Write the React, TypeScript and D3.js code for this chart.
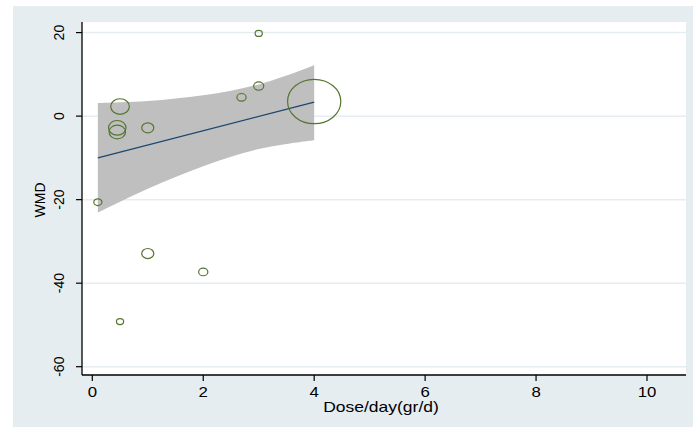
import React from "react";
import * as d3 from "d3";

const doseX = [0.1, 0.5, 0.45, 0.45, 1.0, 2.69, 3.0, 3.0, 4.0, 1.0, 2.0, 0.5];
const wmdY = [-20.6, 2.3, -2.8, -3.8, -2.8, 4.5, 7.2, 19.8, 3.5, -32.9, -37.3, -49.2];
const weightR = [3.7, 8.5, 8, 7.5, 5.5, 4.2, 4.6, 3.3, 24.3, 5.5, 4.2, 3.3];

const fitX = [0.1, 4.0];
const fitY = [-10.0, 3.35];

const bandX = [0.1, 0.5, 1.0, 1.5, 2.0, 2.5, 3.0, 3.5, 4.0];
const bandUpper = [3.1, 3.3, 3.6, 4.2, 5.0, 6.1, 7.6, 9.7, 12.2];
const bandLower = [-23.1, -20.5, -17.4, -14.6, -12.0, -9.7, -7.9, -6.7, -5.8];

const xTicks = [0, 2, 4, 6, 8, 10];
const yTicks = [20, 0, -20, -40, -60];

export default function App() {
  const W = 693, H = 427;
  const x = d3.scaleLinear().domain([0, 10]).range([92.3, 647]);
  const y = d3.scaleLinear().domain([-60, 20]).range([366.7, 32.6]);
  const plotL = 82, plotR = 686, plotT = 22, plotB = 375;
  const font = "Arial, 'Liberation Sans', sans-serif";
  const stretch = 1.2;

  const area = d3
    .area<number>()
    .x((_, i) => x(bandX[i]))
    .y0((_, i) => y(bandLower[i]))
    .y1((_, i) => y(bandUpper[i]))
    .curve(d3.curveCatmullRom);
  const line = d3
    .line<number>()
    .x((_, i) => x(fitX[i]))
    .y((d) => y(d));

  return (
    <svg
      width={W}
      height={H}
      style={{ position: "absolute", left: 0, top: 0, display: "block" }}
    >
      <rect x={0} y={0} width={W} height={H} fill="#ffffff" />
      <rect x={13} y={6} width={W - 13} height={H - 6} fill="#e6edf1" />
      <rect x={plotL} y={plotT} width={plotR - plotL} height={plotB - plotT} fill="#ffffff" />
      {yTicks.map((t) => (
        <line
          key={"g" + t}
          x1={plotL}
          x2={plotR}
          y1={y(t)}
          y2={y(t)}
          stroke="#e6edf1"
          strokeWidth={1.5}
        />
      ))}
      <path d={area(bandX) || ""} fill="#bfbfbf" />
      <path d={line(fitY) || ""} fill="none" stroke="#1a476f" strokeWidth={1.3} />
      {doseX.map((d, i) => (
        <ellipse
          key={"c" + i}
          cx={x(d)}
          cy={y(wmdY[i])}
          rx={weightR[i] * Math.sqrt(stretch)}
          ry={weightR[i] / Math.sqrt(stretch)}
          fill="none"
          stroke="#55752f"
          strokeWidth={1.2}
        />
      ))}
      <line x1={plotL} x2={plotL} y1={plotT} y2={plotB} stroke="#000" strokeWidth={1.3} />
      <line x1={plotL} x2={plotR} y1={plotB} y2={plotB} stroke="#000" strokeWidth={1.3} />
      {yTicks.map((t) => (
        <g key={"yt" + t}>
          <line x1={plotL - 6} x2={plotL} y1={y(t)} y2={y(t)} stroke="#000" strokeWidth={1.2} />
          <text
            transform={`translate(${64},${y(t)}) rotate(-90)`}
            textAnchor="middle"
            fontFamily={font}
            fontSize={14}
            fill="#000"
          >
            {t}
          </text>
        </g>
      ))}
      {xTicks.map((t) => (
        <g key={"xt" + t}>
          <line x1={x(t)} x2={x(t)} y1={plotB} y2={plotB + 6} stroke="#000" strokeWidth={1.2} />
          <text
            transform={`translate(${x(t)},397) scale(1.2,1)`}
            textAnchor="middle"
            fontFamily={font}
            fontSize={14}
            fill="#000"
          >
            {t}
          </text>
        </g>
      ))}
      <text
        transform="translate(381,412) scale(1.25,1)"
        textAnchor="middle"
        fontFamily={font}
        fontSize={14}
        fill="#000"
      >
        Dose/day(gr/d)
      </text>
      <text
        transform={`translate(45,200) rotate(-90)`}
        textAnchor="middle"
        fontFamily={font}
        fontSize={14}
        fill="#000"
      >
        WMD
      </text>
    </svg>
  );
}
